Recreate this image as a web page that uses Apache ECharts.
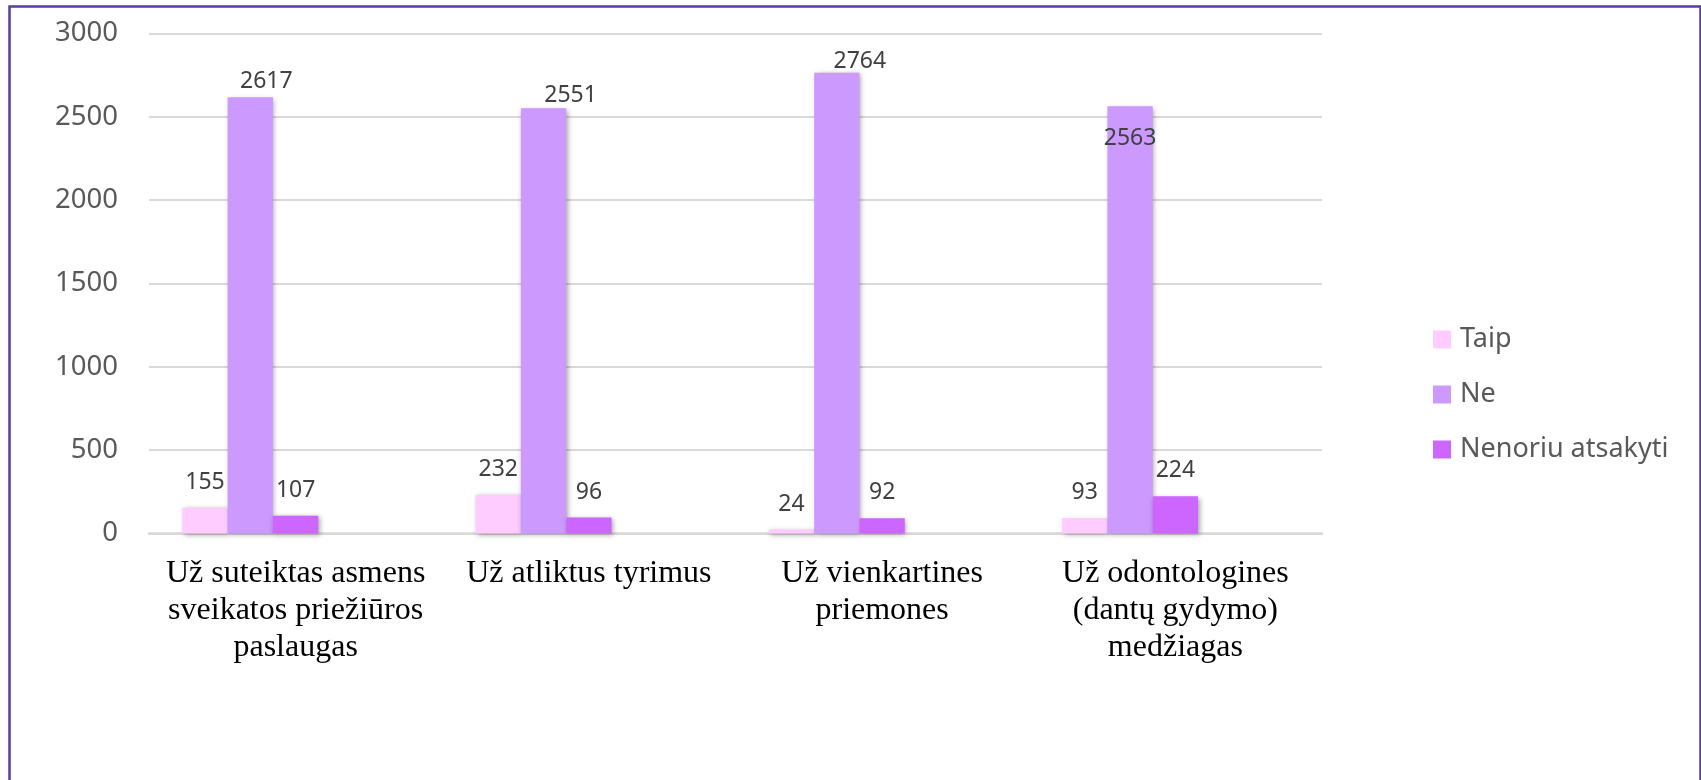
<!DOCTYPE html>
<html>
<head>
<meta charset="utf-8">
<script src="https://cdn.jsdelivr.net/npm/echarts@6/dist/echarts.min.js"></script>
<style>
html,body{margin:0;padding:0;background:#fff;}
#c{width:1701px;height:780px;}
</style>
</head>
<body>
<div id="c"></div>
<script>
const categories = [
  'Už suteiktas asmens\nsveikatos priežiūros\npaslaugas',
  'Už atliktus tyrimus',
  'Už vienkartines\npriemones',
  'Už odontologines\n(dantų gydymo)\nmedžiagas'
];
const seriesNames = ['Taip', 'Ne', 'Nenoriu atsakyti'];
const taip = [155, 232, 24, 93];
const ne = [2617, 2551, 2764, 2563];
const nenoriu = [107, 96, 92, 224];
const yTicks = [0, 500, 1000, 1500, 2000, 2500, 3000];

const colors = ['#FFCCFF', '#CC99FF', '#CC66FF'];
const labelFont = { fontFamily: 'Noto Sans', fontSize: 23, color: '#404040' };
const shadow = { shadowBlur: 5, shadowColor: 'rgba(0,0,0,0.35)', shadowOffsetX: 1.5, shadowOffsetY: 1.5 };

function barSeries(name, values, color, distance) {
  return {
    name: name, type: 'bar', barWidth: 45.3, barGap: '0%',
    itemStyle: Object.assign({ color: color }, shadow),
    label: Object.assign({ show: true, position: 'top', distance: distance }, labelFont),
    data: values.map(v => v)
  };
}

// label placement tweaks for the tall "Ne" bars (as placed in the original)
const neLabelStyle = [
  { distance: 4, offset: [16, 0] },
  { distance: 1, offset: [27, 0] },
  { distance: 0, offset: [23, 0] },
  { position: 'insideTop', distance: 21 }
];

const sTaip = barSeries(seriesNames[0], taip, colors[0], 14);
const sNe = barSeries(seriesNames[1], ne, colors[1], 4);
sNe.data = ne.map((v, i) => ({ value: v, label: neLabelStyle[i] }));
const sNen = barSeries(seriesNames[2], nenoriu, colors[2], 14);
const empty1 = { name: '_e1', type: 'bar', barWidth: 45.3, barGap: '0%', data: categories.map(() => null) };
const empty2 = { name: '_e2', type: 'bar', barWidth: 45.3, barGap: '0%', data: categories.map(() => null) };

const chart = echarts.init(document.getElementById('c'), null, { renderer: 'canvas' });
chart.setOption({
  backgroundColor: '#ffffff',
  animation: false,
  graphic: [{
    type: 'rect', left: 7, top: 4,
    shape: { x: 0, y: 0, width: 1691, height: 820 },
    style: { fill: 'none', stroke: '#5b3c9e', lineWidth: 2.5 },
    silent: true, z: 100
  }],
  legend: {
    data: seriesNames,
    orient: 'vertical',
    left: 1433, top: 326,
    padding: 0,
    itemWidth: 18, itemHeight: 18, itemGap: 28,
    icon: 'rect',
    textStyle: { fontFamily: 'Noto Sans', fontSize: 27, color: '#595959', padding: [0, 0, 0, 4] }
  },
  grid: { left: 149, right: 379, top: 33.5, bottom: 246.5, containLabel: false },
  xAxis: {
    type: 'category',
    data: categories,
    axisTick: { show: false },
    axisLine: { show: true, lineStyle: { color: '#d9d9d9', width: 2.5 } },
    axisLabel: {
      interval: 0,
      margin: 21,
      fontFamily: 'Liberation Serif', fontSize: 32, lineHeight: 37.4, color: '#000000'
    }
  },
  yAxis: {
    type: 'value',
    min: yTicks[0], max: yTicks[yTicks.length - 1], interval: 500,
    axisLine: { show: false },
    axisTick: { show: false },
    splitLine: { lineStyle: { color: '#d9d9d9', width: 2 } },
    axisLabel: { margin: 31, fontFamily: 'Noto Sans', fontSize: 27.5, color: '#595959', formatter: v => String(v) }
  },
  series: [sTaip, sNe, sNen, empty1, empty2]
});
</script>
</body>
</html>
